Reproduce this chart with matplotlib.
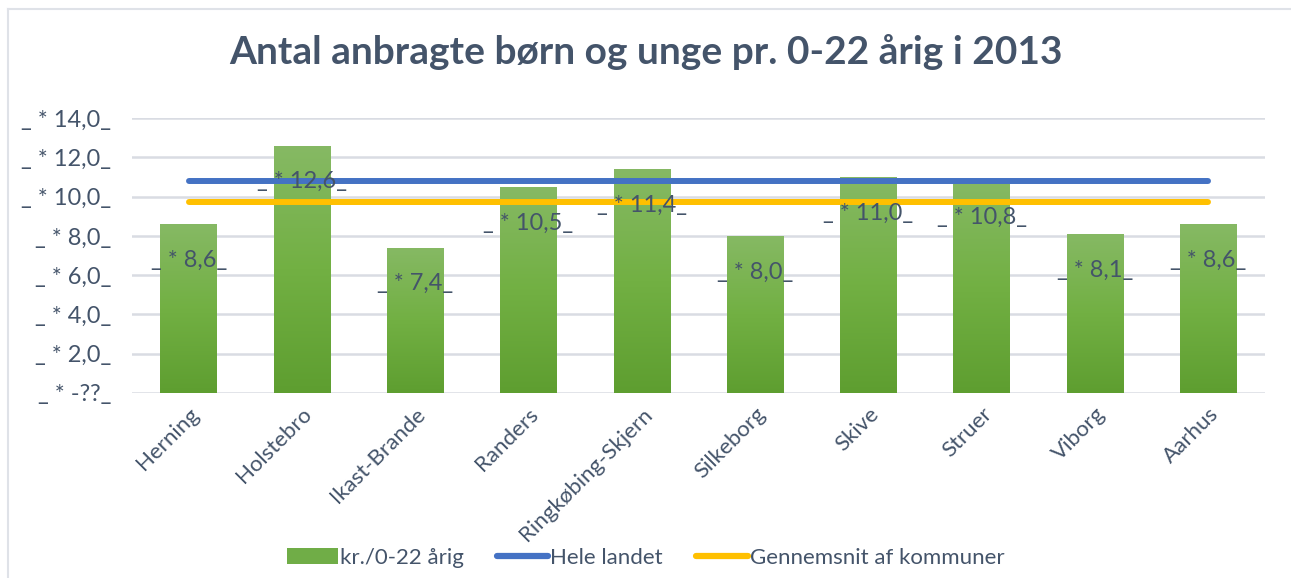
import matplotlib
matplotlib.use("Agg")
import matplotlib.pyplot as plt
import numpy as np
from matplotlib.colors import LinearSegmentedColormap
from matplotlib.lines import Line2D
from matplotlib.patches import Patch

plt.rcParams['font.family'] = ['Lato', 'DejaVu Sans']

categories = ["Herning", "Holstebro", "Ikast-Brande", "Randers", "Ringkøbing-Skjern",
              "Silkeborg", "Skive", "Struer", "Viborg", "Aarhus"]
values = [8.6, 12.6, 7.4, 10.5, 11.4, 8.0, 11.0, 10.8, 8.1, 8.6]
hele_landet = 10.8
gennemsnit = 9.7
yticks = [0, 2, 4, 6, 8, 10, 12, 14]
ytick_labels = ["_ * -??_", "_ * 2,0_", "_ * 4,0_", "_ * 6,0_", "_ * 8,0_",
                "_ * 10,0_", "_ * 12,0_", "_ * 14,0_"]
title = "Antal anbragte børn og unge pr. 0-22 årig i 2013"
legend_labels = ["kr./0-22 årig", "Hele landet", "Gennemsnit af kommuner"]

W, H = 1291, 578
fig = plt.figure(figsize=(W / 100, H / 100), dpi=100)
ax = fig.add_axes([132 / W, 1 - 393 / H, (1265 - 132) / W, (393 - 118) / H])

text_color = "#44546a"

x = np.arange(len(categories))
bars = ax.bar(x, values, width=0.5, color="#70ad47", zorder=2)

# gradient fill on bars
cmap = LinearSegmentedColormap.from_list("g", ["#5e9e30", "#72b043", "#86b964"])
grad = np.linspace(0, 1, 256).reshape(-1, 1)
for b in bars:
    x0, y0 = b.get_x(), b.get_y()
    w, h = b.get_width(), b.get_height()
    im = ax.imshow(grad, extent=[x0, x0 + w, y0, y0 + h], origin="lower",
                   cmap=cmap, aspect="auto", zorder=2)
    im.set_clip_path(b)
    b.set_facecolor("none")

ax.plot([x[0], x[-1]], [hele_landet, hele_landet], color="#4472c4", lw=4.3,
        solid_capstyle="round", zorder=3)
ax.plot([x[0], x[-1]], [gennemsnit, gennemsnit], color="#ffc000", lw=4.3,
        solid_capstyle="round", zorder=3)

for xi, v in zip(x, values):
    lab = "_ * " + f"{v:.1f}".replace(".", ",") + "_"
    ax.annotate(lab, (xi, v), xytext=(0, -26), textcoords="offset points",
                ha="center", va="center", fontsize=17, color=text_color, zorder=4)

ax.set_xlim(-0.5, len(categories) - 0.5)
ax.set_ylim(0, 14)
ax.set_yticks(yticks)
ax.set_yticklabels(ytick_labels, fontsize=17, color=text_color)
ax.set_xticks(x)
ax.set_xticklabels(categories, rotation=45, ha="right", rotation_mode="anchor",
                   fontsize=16, color=text_color)
ax.tick_params(length=0, axis="both")
ax.tick_params(axis="y", pad=15)
ax.tick_params(axis="x", pad=8)
ax.grid(axis="y", color="#d9dce3", lw=1.8, zorder=0)
for s in ax.spines.values():
    s.set_visible(False)

fig.text(0.5, 1 - 52 / H, title, ha="center", va="center", fontsize=28,
         fontweight="bold", color=text_color)

handles = [Patch(facecolor="#70ad47"),
           Line2D([], [], color="#4472c4", lw=4.5, solid_capstyle="round"),
           Line2D([], [], color="#ffc000", lw=4.5, solid_capstyle="round")]
fig.legend(handles, legend_labels, loc="center", bbox_to_anchor=(0.5, 1 - 558 / H),
           ncol=3, frameon=False, fontsize=16, labelcolor=text_color,
           handlelength=2.3, handletextpad=0.1, columnspacing=1.5)

# chart border
fig.add_artist(Line2D([7.5 / W, 7.5 / W], [0, 1 - 9 / H], transform=fig.transFigure,
                      color="#dfe2e8", lw=1.5))
fig.add_artist(Line2D([7.5 / W, 1], [1 - 9 / H, 1 - 9 / H], transform=fig.transFigure,
                      color="#dfe2e8", lw=1.5))

fig.savefig("out.png", dpi=100)
